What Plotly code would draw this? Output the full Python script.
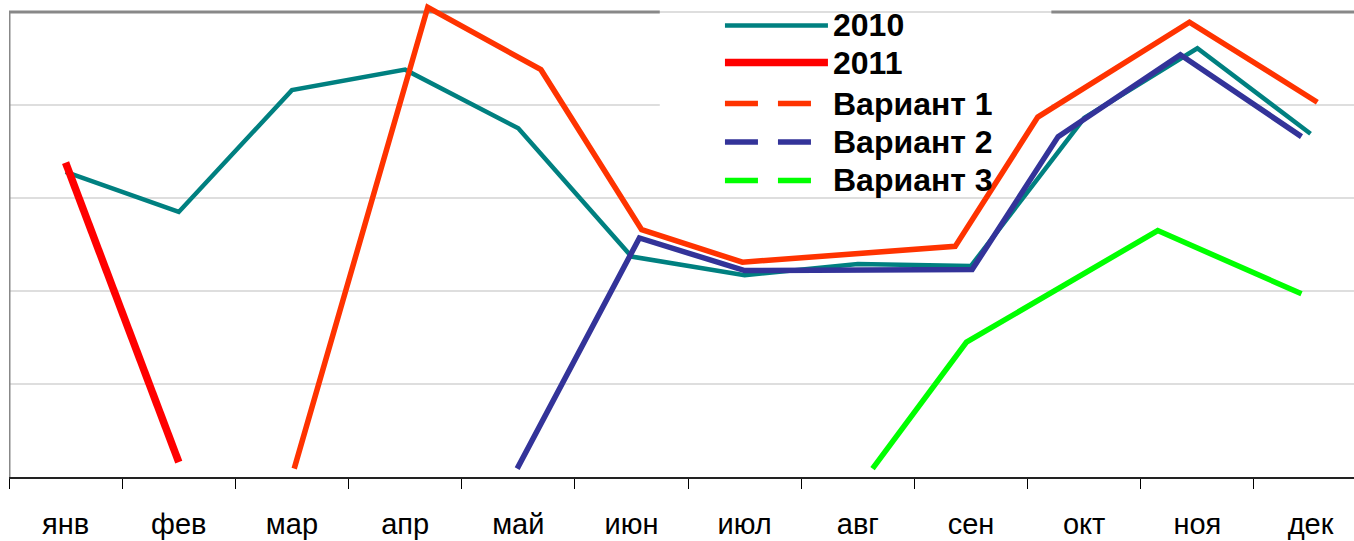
import plotly.graph_objects as go

# ---------------- data ----------------
months = ["янв", "фев", "мар", "апр", "май", "июн", "июл", "авг", "сен", "окт", "ноя", "дек"]
v2010 = [3.28, 2.85, 4.16, 4.38, 3.75, 2.37, 2.17, 2.29, 2.27, 3.86, 4.61, 3.69]
months2011 = ["янв", "фев"]
v2011 = [3.38, 0.16]

# variant series are drawn at fractional month positions (0 = янв)
var1_x = [2.02, 3.20, 4.20, 5.09, 5.98, 7.86, 8.59, 9.93, 11.06]
var1_y = [0.09, 5.05, 4.38, 2.66, 2.31, 2.48, 3.87, 4.89, 4.03]
var2_x = [3.99, 5.07, 6.00, 8.01, 8.77, 9.85, 10.92]
var2_y = [0.09, 2.57, 2.22, 2.23, 3.66, 4.54, 3.66]
var3_x = [7.13, 7.96, 9.65, 10.92]
var3_y = [0.09, 1.45, 2.65, 1.97]

legend_names = ["2010", "2011", "Вариант 1", "Вариант 2", "Вариант 3"]
grid_values = [1, 2, 3, 4, 5]

# ---------------- styles ----------------
C2010 = "#008080"
C2011 = "#FF0000"
CV1 = "#FF3300"
CV2 = "#333399"
CV3 = "#00FF00"
BORDER = "#888888"
GRID = "#D3D3D3"

XMAX = 11.384
YMAX = 5.1075
LX0, LX1 = 5.25, 8.71          # legend box horizontal extent (axis units)
LY0, LY1 = 3.03, 5.0           # legend box vertical extent

fig = go.Figure()
fig.add_trace(go.Scatter(x=months, y=v2010, mode="lines", name=legend_names[0],
                         line=dict(color=C2010, width=4.5), xaxis="x", yaxis="y"))
fig.add_trace(go.Scatter(x=months2011, y=v2011, mode="lines", name=legend_names[1],
                         line=dict(color=C2011, width=7.5), xaxis="x", yaxis="y"))
fig.add_trace(go.Scatter(x=var1_x, y=var1_y, mode="lines", name=legend_names[2],
                         line=dict(color=CV1, width=5.5), xaxis="x2", yaxis="y"))
fig.add_trace(go.Scatter(x=var2_x, y=var2_y, mode="lines", name=legend_names[3],
                         line=dict(color=CV2, width=5.5), xaxis="x2", yaxis="y"))
fig.add_trace(go.Scatter(x=var3_x, y=var3_y, mode="lines", name=legend_names[4],
                         line=dict(color=CV3, width=5.5), xaxis="x2", yaxis="y"))

shapes = []
# horizontal gridlines, interrupted by the legend box where it covers them
for g in grid_values:
    if LY0 < g < LY1:
        segs = [(-0.5, LX0), (LX1, XMAX)]
    else:
        segs = [(-0.5, XMAX)]
    for a, b in segs:
        shapes.append(dict(type="line", xref="x", yref="y", x0=a, x1=b, y0=g, y1=g,
                           line=dict(color=GRID, width=1.5), layer="below"))
# plot border (left + top, interrupted by legend)
shapes.append(dict(type="line", xref="x", yref="y", x0=-0.5, x1=-0.5, y0=0, y1=5,
                   line=dict(color=BORDER, width=3), layer="below"))
shapes.append(dict(type="line", xref="x", yref="y", x0=-0.5, x1=LX0, y0=5, y1=5,
                   line=dict(color=BORDER, width=3), layer="below"))
shapes.append(dict(type="line", xref="x", yref="y", x0=LX1, x1=XMAX, y0=5, y1=5,
                   line=dict(color=BORDER, width=3), layer="below"))

# manual legend
leg_colors = [C2010, C2011, CV1, CV2, CV3]
leg_widths = [4.5, 7.5, 5.5, 5.5, 5.5]
leg_dash = ["solid", "solid", "33px,20px", "33px,20px", "33px,20px"]
leg_y = [4.855, 4.457, 4.016, 3.602, 3.189]
SX0, SX1, TX = 5.826, 6.736, 6.76
annotations = []
for name, c, w, d, yy in zip(legend_names, leg_colors, leg_widths, leg_dash, leg_y):
    shapes.append(dict(type="line", xref="x", yref="y", x0=SX0, x1=SX1, y0=yy, y1=yy,
                       line=dict(color=c, width=w, dash=d), layer="above"))
    annotations.append(dict(xref="x", yref="y", x=TX, y=yy, text=name, showarrow=False,
                            xanchor="left", yanchor="middle",
                            font=dict(family="Liberation Sans", size=32, color="black",
                                      weight="bold")))

fig.update_layout(
    width=1354, height=541, autosize=False,
    margin=dict(l=9, r=0, t=2, b=64, pad=0),
    paper_bgcolor="white", plot_bgcolor="white",
    showlegend=False,
    xaxis=dict(type="category", categoryorder="array", categoryarray=months,
               range=[-0.5, XMAX], tickson="boundaries", ticks="outside", ticklen=10,
               tickwidth=1, tickcolor="black", showline=True, linecolor="#222222",
               linewidth=2, showgrid=False, zeroline=False, automargin=False,
               tickfont=dict(family="Liberation Sans", size=29, color="black"),
               ticklabelstandoff=20),
    xaxis2=dict(type="linear", overlaying="x", range=[-0.5, XMAX], visible=False,
                showgrid=False, zeroline=False),
    yaxis=dict(range=[0, YMAX], showgrid=False, showticklabels=False, zeroline=False,
               showline=False, ticks="", automargin=False),
    shapes=shapes,
    annotations=annotations,
)

fig.write_html("out.html", config={"displayModeBar": False},
               post_script="document.body.style.margin='0';")
